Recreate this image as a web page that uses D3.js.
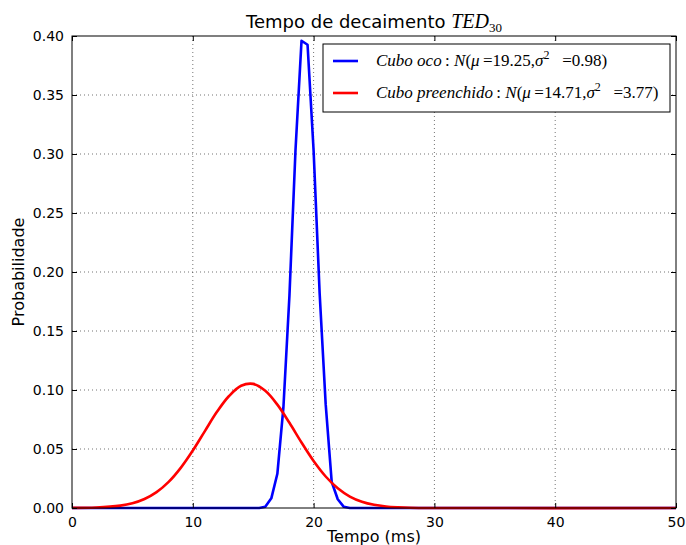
<!DOCTYPE html>
<html>
<head>
<meta charset="utf-8">
<script src="https://cdn.jsdelivr.net/npm/d3@7"></script>
<style>
  body { margin: 0; background: #fff; }
  svg { display: block; }
  .tick text { font-family: "DejaVu Sans", sans-serif; font-size: 14px; fill: #000; }
  .grid line { stroke: #000; stroke-opacity: 0.55; stroke-dasharray: 1 3; }
  .math { font-family: "Liberation Serif", serif; font-style: italic; }
</style>
</head>
<body>
<div id="container"></div>
<script>
var width = 686;
var height = 545;
var margin = {top: 36, right: 10, bottom: 37, left: 72};

// Cubo oco, sampled every 0.5 ms near the peak
var blueT = [0, 15.5, 16, 16.5, 17, 17.5, 18, 18.5, 19, 19.5, 20, 20.5, 21, 21.5, 22, 22.5, 23, 50];
var blueP = [0, 0, 0.0011, 0.0082, 0.029, 0.085, 0.18, 0.303, 0.396, 0.3926, 0.303, 0.182, 0.088, 0.022, 0.0074, 0.001, 0, 0];

// Cubo preenchido
var redT = [0, 2, 4, 5, 6, 7, 8, 9, 10, 11, 12, 13, 14, 15, 16, 17, 18, 19, 20, 21, 22, 23, 24, 25, 26, 27, 28, 30, 50];
var redP = [0.0001, 0.0004, 0.002, 0.004, 0.0076, 0.0134, 0.0221, 0.034, 0.0487, 0.0652, 0.0815, 0.0949, 0.1036,
  0.1052, 0.0993, 0.0876, 0.0722, 0.0555, 0.0398, 0.0267, 0.0167, 0.0097, 0.0053, 0.0027, 0.0013, 0.0006, 0.0002, 0, 0];

var xTicks = [0, 10, 20, 30, 40, 50];
var yTicks = [0, 0.05, 0.10, 0.15, 0.20, 0.25, 0.30, 0.35, 0.40];

var legendItems = [
  {color: "blue", name: "Cubo oco", mu: "19.25", s2: "0.98"},
  {color: "red", name: "Cubo preenchido", mu: "14.71", s2: "3.77"}
];

var w = width - margin.left - margin.right;
var h = height - margin.top - margin.bottom;

var x = d3.scaleLinear().domain([0, 50]).range([0, w]);
var y = d3.scaleLinear().domain([0, 0.4]).range([h, 0]);

var svg = d3.select("#container")
  .append("svg")
  .attr("width", width)
  .attr("height", height);

var g = svg.append("g")
  .attr("transform", "translate(" + margin.left + "," + margin.top + ")");

// grid
g.append("g")
  .attr("class", "grid")
  .selectAll("line")
  .data(xTicks.slice(1, -1))
  .enter().append("line")
  .attr("x1", d => x(d)).attr("x2", d => x(d))
  .attr("y1", 0).attr("y2", h);

g.append("g")
  .attr("class", "grid")
  .selectAll("line")
  .data(yTicks.slice(1, -1))
  .enter().append("line")
  .attr("y1", d => y(d)).attr("y2", d => y(d))
  .attr("x1", 0).attr("x2", w);

// curves
var line = d3.line()
  .x(d => x(d[0]))
  .y(d => y(d[1]));

g.append("path")
  .datum(blueT.map((t, i) => [t, blueP[i]]))
  .attr("fill", "none")
  .attr("stroke", "blue")
  .attr("stroke-width", 2.6)
  .attr("stroke-linejoin", "round")
  .attr("d", line);

g.append("path")
  .datum(redT.map((t, i) => [t, redP[i]]))
  .attr("fill", "none")
  .attr("stroke", "red")
  .attr("stroke-width", 2.6)
  .attr("d", line.curve(d3.curveCatmullRom));

// axes, ticks pointing inward on all four sides
g.append("g")
  .attr("transform", "translate(0," + h + ")")
  .call(d3.axisBottom(x).tickValues(xTicks).tickFormat(d3.format("d")).tickSizeInner(-5).tickSizeOuter(0).tickPadding(9));
g.append("g")
  .call(d3.axisLeft(y).tickValues(yTicks).tickFormat(d3.format(".2f")).tickSizeInner(-5).tickSizeOuter(0).tickPadding(8));
g.append("g")
  .call(d3.axisTop(x).tickValues(xTicks).tickSizeInner(-5).tickSizeOuter(0).tickFormat(""));
g.append("g")
  .attr("transform", "translate(" + w + ",0)")
  .call(d3.axisRight(y).tickValues(yTicks).tickSizeInner(-5).tickSizeOuter(0).tickFormat(""));
g.selectAll(".domain").remove();
g.selectAll(".tick line").attr("stroke", "#000");

g.append("rect")
  .attr("width", w).attr("height", h)
  .attr("fill", "none").attr("stroke", "#000").attr("stroke-width", 1);

// title
var title = svg.append("text")
  .attr("x", margin.left + w / 2)
  .attr("y", 28)
  .attr("text-anchor", "middle")
  .style("font-family", "DejaVu Sans, sans-serif")
  .style("font-size", "18px");
title.append("tspan").text("Tempo de decaimento ");
title.append("tspan").attr("class", "math").style("font-size", "20px").text("TED");
title.append("tspan").attr("class", "math").style("font-style", "normal").style("font-size", "13px").attr("dy", 4).text("30");

// axis labels
svg.append("text")
  .attr("x", margin.left + w / 2)
  .attr("y", 542)
  .attr("text-anchor", "middle")
  .style("font-family", "DejaVu Sans, sans-serif")
  .style("font-size", "16px")
  .text("Tempo (ms)");

svg.append("text")
  .attr("transform", "translate(24," + (margin.top + h / 2) + ") rotate(-90)")
  .attr("text-anchor", "middle")
  .style("font-family", "DejaVu Sans, sans-serif")
  .style("font-size", "16px")
  .text("Probabilidade");

// legend
var lg = g.append("g").attr("transform", "translate(" + (w - 353) + ",8)");
lg.append("rect")
  .attr("width", 347).attr("height", 68)
  .attr("fill", "#fff").attr("stroke", "#000").attr("stroke-width", 1);

var rows = lg.selectAll(".row")
  .data(legendItems)
  .enter().append("g")
  .attr("transform", (d, i) => "translate(0," + (17 + i * 32) + ")");

rows.append("line")
  .attr("x1", 10).attr("x2", 35)
  .attr("stroke", d => d.color)
  .attr("stroke-width", 2.6);

var lt = rows.append("text")
  .attr("x", 53)
  .attr("dy", 5)
  .style("font-family", "Liberation Serif, serif")
  .style("font-size", "17px");
lt.append("tspan").style("font-style", "italic").text(d => d.name);
lt.append("tspan").text("\u2009: ");
lt.append("tspan").style("font-style", "italic").text("N");
lt.append("tspan").text("(");
lt.append("tspan").style("font-style", "italic").text("\u03bc");
lt.append("tspan").text(d => "\u2009=" + d.mu + ",");
lt.append("tspan").style("font-style", "italic").text("\u03c3");
lt.append("tspan").attr("dy", -7).style("font-size", "12px").text("2");
lt.append("tspan").attr("dy", 7).text(d => "\u2002 =" + d.s2 + ")");
</script>
</body>
</html>
